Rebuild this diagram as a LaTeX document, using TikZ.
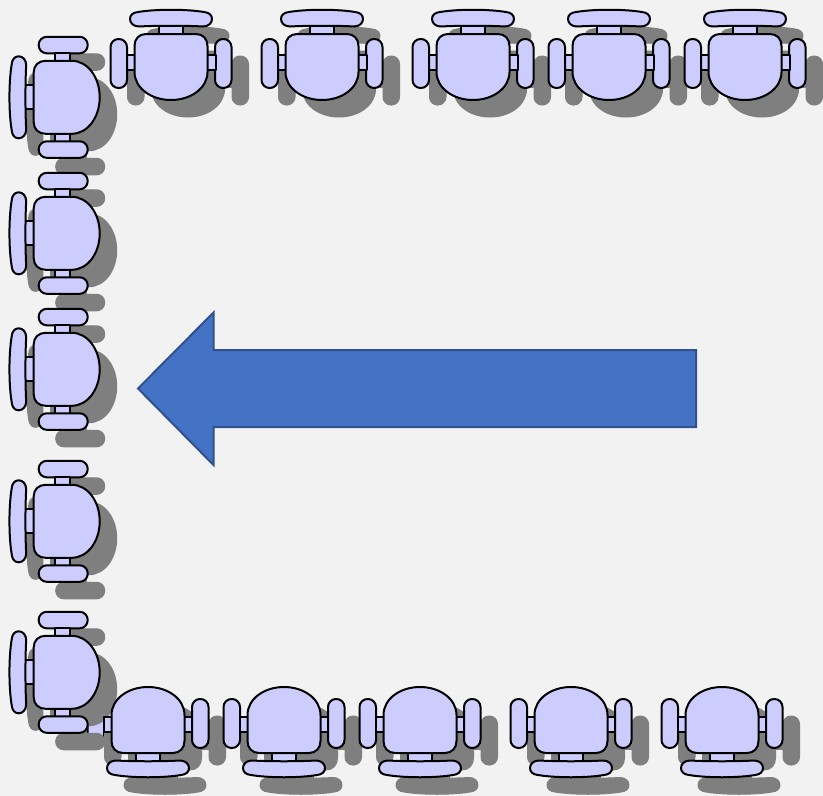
\documentclass[tikz,border=0pt]{standalone}
\definecolor{bgc}{HTML}{F2F2F2}
\definecolor{chairc}{HTML}{CCCCFF}
\definecolor{shadowc}{HTML}{7F7F7F}
\definecolor{arrowc}{HTML}{4472C4}
\definecolor{arrowl}{HTML}{2F528F}
\tikzset{
  solidpart/.style={fill=chairc,draw=black,line width=2pt,line join=round},
  shadepart/.style={fill=shadowc,draw=shadowc,line width=1pt,line join=round},
  part/.style={solidpart}
}
% one chair, facing +y in local coordinates; origin on the axis of the chair
\newcommand{\chairarmB}{%
  \path[part] (44,39) [rounded corners=8pt] rectangle (60.5,88);}
\newcommand{\chairrest}{%
  \path[part] (-12,24) rectangle (12,35);
  \path[part] (-44.5,55) rectangle (-36,70);
  \path[part] (36,55) rectangle (44.5,70);
  \path[part] (-60.5,39) [rounded corners=8pt] rectangle (-44,88);
  \path[part] (-41,19) .. controls (-41,15) and (-38,12.5) .. (-33,12)
     .. controls (-15,9) and (15,9) .. (33,12)
     .. controls (38,12.5) and (41,15) .. (41,19)
     .. controls (41,23) and (37.5,26.5) .. (32,26.5)
     .. controls (15,25.5) and (-15,25.5) .. (-32,26.5)
     .. controls (-37.5,26.5) and (-41,23) .. (-41,19) -- cycle;
  \path[part] (-36.5,46) .. controls (-36.5,39) and (-32,34) .. (-25,34)
     -- (25,34) .. controls (32,34) and (36.5,39) .. (36.5,46)
     -- (36.5,72) .. controls (36.5,88) and (20,100) .. (0,100)
     .. controls (-20,100) and (-36.5,88) .. (-36.5,72) -- cycle;}
\newcommand{\chairshade}[3]{%
  \begin{scope}[shift={(#1+17,#2+17)},rotate=#3,part/.style={shadepart}]
    \chairarmB\chairrest
  \end{scope}}
\newcommand{\chairfull}[3]{%
  \chairshade{#1}{#2}{#3}%
  \begin{scope}[shift={(#1,#2)},rotate=#3]
    \chairarmB\chairrest
  \end{scope}}
\begin{document}
\begin{tikzpicture}[x=1pt,y=-1pt]
\useasboundingbox (0,0) rectangle (823,796);
\fill[bgc] (0,0) rectangle (823,796);
% left column
\chairfull{-0.3}{97.3}{90}
\chairfull{-0.3}{233.3}{90}
\chairfull{-0.3}{369.3}{90}
\chairfull{-0.3}{521.3}{90}
% first chair of the bottom row: its arm lies under the last chair of the column
\begin{scope}[shift={(148,787)},rotate=180]
  \chairarmB
\end{scope}
\chairfull{-0.3}{672.3}{90}
\chairshade{148}{787}{180}
\begin{scope}[shift={(148,787)},rotate=180]
  \chairrest
\end{scope}
% bottom row
\chairfull{284}{787}{180}
\chairfull{420}{787}{180}
\chairfull{571}{787}{180}
\chairfull{722}{787}{180}
% top row
\chairfull{171}{0}{0}
\chairfull{322}{0}{0}
\chairfull{473}{0}{0}
\chairfull{609}{0}{0}
\chairfull{745}{0}{0}
% arrow
\draw[fill=arrowc,draw=arrowl,line width=2pt,line join=miter]
  (696,350) -- (213.5,350) -- (213.5,312.5) -- (138,388.5) -- (213.5,465) -- (213.5,427) -- (696,427) -- cycle;
\end{tikzpicture}
\end{document}
